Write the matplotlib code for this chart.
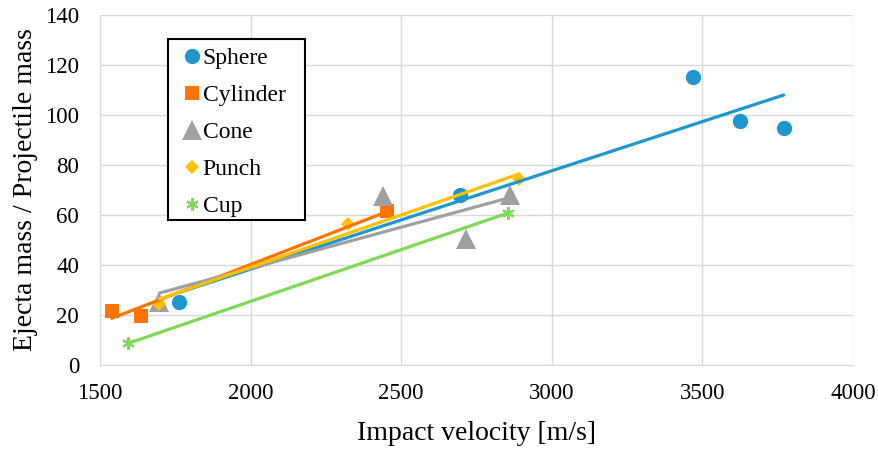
import numpy as np
import matplotlib
matplotlib.use("Agg")
import matplotlib.pyplot as plt
from matplotlib.patches import Rectangle

plt.rcParams['font.family'] = ['Liberation Serif', 'DejaVu Serif']

# data
sphere_v = [1763, 2694, 3469, 3625, 3770]
sphere_m = [25.2, 68.0, 115.2, 97.7, 94.8]
cylinder_v = [1539, 1635, 2453]
cylinder_m = [21.7, 19.8, 61.7]
cone_v = [1697, 2439, 2716, 2861]
cone_m = [25.0, 67.5, 50.5, 68.0]
punch_v = [1697, 2322, 2891]
punch_m = [24.5, 56.5, 74.3]
cup_v = [1594, 2855]
cup_m = [8.7, 60.8]

series = [
    ("Sphere", sphere_v, sphere_m, "#1F97CE", "o", 11),
    ("Cylinder", cylinder_v, cylinder_m, "#FF7400", "s", 10),
    ("Cone", cone_v, cone_m, "#A0A0A0", "^", 15),
    ("Punch", punch_v, punch_m, "#FFC000", "D", 7.5),
    ("Cup", cup_v, cup_m, "#7ED957", "x", 9),
]

fig = plt.figure(figsize=(8.79, 4.49), dpi=100)
ax = fig.add_axes([0.1138, 0.187, 0.8566, 0.780])

for name, v, m, col, mk, ms in series:
    if mk == "x":
        # Excel-like asterisk marker
        ax.plot(v, m, linestyle="none", marker=(6, 2, 0), markersize=ms,
                markeredgecolor=col, markeredgewidth=1.5, label=name, zorder=3)
    else:
        ax.plot(v, m, linestyle="none", marker=mk, markersize=ms, color=col,
                markeredgewidth=0, label=name, zorder=3)
    # linear trendline
    k, b = np.polyfit(v, m, 1)
    xs = np.array([min(v), max(v)])
    ax.plot(xs, k * xs + b, color=col, lw=2.3, zorder=4, solid_capstyle="round")

ax.set_xlim(1500, 4000)
ax.set_ylim(0, 140)
ax.set_xticks(np.arange(1500, 4001, 500))
ax.set_yticks(np.arange(0, 141, 20))
ax.grid(True, color="#D9D9D9", lw=1)
ax.set_axisbelow(True)
for s in ax.spines.values():
    s.set_visible(False)
ax.spines['bottom'].set_visible(True)
ax.spines['bottom'].set_color("#D9D9D9")
ax.spines['left'].set_visible(True)
ax.spines['left'].set_color("#D9D9D9")
ax.tick_params(length=0, labelsize=16.5)
ax.tick_params(axis="x", pad=13)
ax.tick_params(axis="y", pad=15)
ax.set_xlabel("Impact velocity [m/s]", fontsize=20, labelpad=12)
ax.set_ylabel("Ejecta mass / Projectile mass", fontsize=20, labelpad=5)

leg = ax.legend(loc="upper left", bbox_to_anchor=(0.1004, 0.926), fontsize=17,
                frameon=False, handlelength=0.8, handletextpad=0.05,
                labelspacing=0.65, borderpad=0.3, borderaxespad=0)
leg.set_zorder(6)

# legend frame drawn by hand so the side padding matches the reference
frame = Rectangle((0.1911, 0.510), 0.1559, 0.4031, transform=fig.transFigure,
                  facecolor="white", edgecolor="black", lw=1.5, zorder=5, clip_on=False)
ax.add_patch(frame)

fig.savefig("out.png", dpi=100)
